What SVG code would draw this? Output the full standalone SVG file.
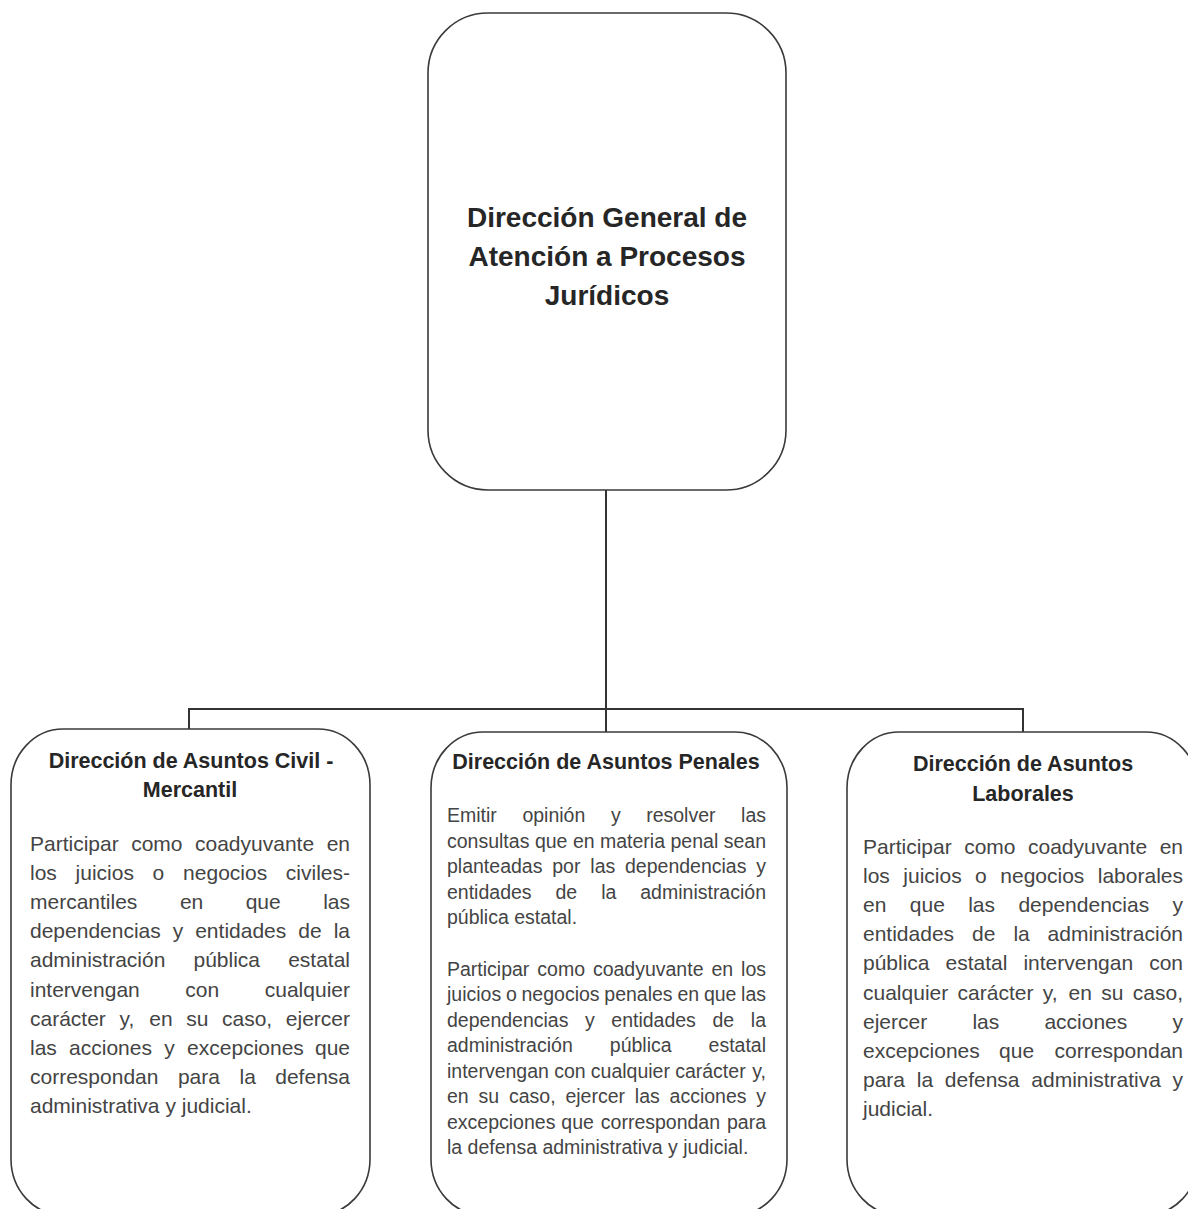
<svg xmlns="http://www.w3.org/2000/svg" width="1188" height="1209" viewBox="0 0 1188 1209">
<style>
.bg{fill:#fff}
.box{fill:#fff;stroke:#3a3a3a;stroke-width:1.6}
.conn{fill:none;stroke:#333;stroke-width:2}
.t{font-family:"Liberation Sans",Arial,sans-serif;font-weight:bold;fill:#262626;text-anchor:middle}
.top{font-size:28px}
.h{font-size:21.5px}
.p{font-family:"Liberation Sans",Arial,sans-serif;font-size:21px;fill:#444}
.pm{font-size:19.5px}
.e{text-anchor:end}
</style>
<rect class="bg" x="0" y="0" width="1188" height="1209"/>
<g id="connectors">
<path class="conn" d="M606 490 V710"/>
<path class="conn" d="M189 729 V709 H1023 V732"/>
<path class="conn" d="M606 709 V732"/>
</g>
<g id="node-general">
<rect class="box" x="428" y="13" width="358" height="477" rx="60" ry="60"/>
<text class="t top" x="607" y="227">Dirección General de</text>
<text class="t top" x="607" y="266">Atención a Procesos</text>
<text class="t top" x="607" y="305">Jurídicos</text>
</g>
<g id="node-civil">
<rect class="box" x="11" y="729" width="359" height="486" rx="52" ry="56"/>
<text class="t h" x="191" y="768">Dirección de Asuntos Civil -</text>
<text class="t h" x="190" y="797">Mercantil</text>
<text class="p" y="851"><tspan x="30">Participar</tspan><tspan x="131.2">como</tspan><tspan x="195">coadyuvante</tspan><tspan x="350" class="e">en</tspan></text>
<text class="p" y="880.1"><tspan x="30">los</tspan><tspan x="75.6">juicios</tspan><tspan x="152.6">o</tspan><tspan x="183.1">negocios</tspan><tspan x="350" class="e">civiles-</tspan></text>
<text class="p" y="909.2"><tspan x="30">mercantiles</tspan><tspan x="179.9">en</tspan><tspan x="245.7">que</tspan><tspan x="350" class="e">las</tspan></text>
<text class="p" y="938.3"><tspan x="30">dependencias</tspan><tspan x="172.7">y</tspan><tspan x="195.2">entidades</tspan><tspan x="298.3">de</tspan><tspan x="350" class="e">la</tspan></text>
<text class="p" y="967.4"><tspan x="30">administración</tspan><tspan x="193.5">pública</tspan><tspan x="350" class="e">estatal</tspan></text>
<text class="p" y="996.6"><tspan x="30">intervengan</tspan><tspan x="185.3">con</tspan><tspan x="350" class="e">cualquier</tspan></text>
<text class="p" y="1025.7"><tspan x="30">carácter</tspan><tspan x="119.5">y,</tspan><tspan x="149.3">en</tspan><tspan x="186.3">su</tspan><tspan x="222">caso,</tspan><tspan x="350" class="e">ejercer</tspan></text>
<text class="p" y="1054.8"><tspan x="30">las</tspan><tspan x="69.1">acciones</tspan><tspan x="164.3">y</tspan><tspan x="187.1">excepciones</tspan><tspan x="350" class="e">que</tspan></text>
<text class="p" y="1083.9"><tspan x="30">correspondan</tspan><tspan x="177.9">para</tspan><tspan x="239.5">la</tspan><tspan x="350" class="e">defensa</tspan></text>
<text class="p" x="30" y="1113">administrativa y judicial.</text>
</g>
<g id="node-penales">
<rect class="box" x="431" y="732" width="356" height="483" rx="52" ry="56"/>
<text class="t h" x="606" y="769">Dirección de Asuntos Penales</text>
<text class="p pm" y="822"><tspan x="447">Emitir</tspan><tspan x="522.4">opinión</tspan><tspan x="610.9">y</tspan><tspan x="646.2">resolver</tspan><tspan x="766" class="e">las</tspan></text>
<text class="p pm" y="847.5"><tspan x="447">consultas</tspan><tspan x="534.9">que</tspan><tspan x="572.9">en</tspan><tspan x="600">materia</tspan><tspan x="670.5">penal</tspan><tspan x="766" class="e">sean</tspan></text>
<text class="p pm" y="873"><tspan x="447">planteadas</tspan><tspan x="552.2">por</tspan><tspan x="590.3">las</tspan><tspan x="625">dependencias</tspan><tspan x="766" class="e">y</tspan></text>
<text class="p pm" y="898.5"><tspan x="447">entidades</tspan><tspan x="555.5">de</tspan><tspan x="601.2">la</tspan><tspan x="766" class="e">administración</tspan></text>
<text class="p pm" x="447" y="924">pública estatal.</text>
<text class="p pm" y="975.5"><tspan x="447">Participar</tspan><tspan x="537.3">como</tspan><tspan x="592.9">coadyuvante</tspan><tspan x="711.5">en</tspan><tspan x="766" class="e">los</tspan></text>
<text class="p pm" y="1001"><tspan x="447">juicios</tspan><tspan x="506">o</tspan><tspan x="521.5">negocios</tspan><tspan x="604.3">penales</tspan><tspan x="677.4">en</tspan><tspan x="703.9">que</tspan><tspan x="766" class="e">las</tspan></text>
<text class="p pm" y="1026.5"><tspan x="447">dependencias</tspan><tspan x="585">y</tspan><tspan x="611.3">entidades</tspan><tspan x="712.5">de</tspan><tspan x="766" class="e">la</tspan></text>
<text class="p pm" y="1052"><tspan x="447">administración</tspan><tspan x="609.8">pública</tspan><tspan x="766" class="e">estatal</tspan></text>
<text class="p pm" y="1077.5"><tspan x="447">intervengan</tspan><tspan x="554.2">con</tspan><tspan x="590.8">cualquier</tspan><tspan x="675.2">carácter</tspan><tspan x="766" class="e">y,</tspan></text>
<text class="p pm" y="1103"><tspan x="447">en</tspan><tspan x="478.5">su</tspan><tspan x="509">caso,</tspan><tspan x="565.4">ejercer</tspan><tspan x="634.8">las</tspan><tspan x="669.6">acciones</tspan><tspan x="766" class="e">y</tspan></text>
<text class="p pm" y="1128.5"><tspan x="447">excepciones</tspan><tspan x="561.3">que</tspan><tspan x="600.8">correspondan</tspan><tspan x="766" class="e">para</tspan></text>
<text class="p pm" x="447" y="1154">la defensa administrativa y judicial.</text>
</g>
<g id="node-laborales">
<rect class="box" x="847" y="732" width="351" height="483" rx="52" ry="56"/>
<text class="t h" x="1023" y="771">Dirección de Asuntos</text>
<text class="t h" x="1023" y="801">Laborales</text>
<text class="p" y="854"><tspan x="863">Participar</tspan><tspan x="964.2">como</tspan><tspan x="1028">coadyuvante</tspan><tspan x="1183" class="e">en</tspan></text>
<text class="p" y="883.1"><tspan x="863">los</tspan><tspan x="903.3">juicios</tspan><tspan x="975.1">o</tspan><tspan x="1000.3">negocios</tspan><tspan x="1183" class="e">laborales</tspan></text>
<text class="p" y="912.2"><tspan x="863">en</tspan><tspan x="909.8">que</tspan><tspan x="968.2">las</tspan><tspan x="1018.4">dependencias</tspan><tspan x="1183" class="e">y</tspan></text>
<text class="p" y="941.3"><tspan x="863">entidades</tspan><tspan x="972">de</tspan><tspan x="1013.4">la</tspan><tspan x="1183" class="e">administración</tspan></text>
<text class="p" y="970.4"><tspan x="863">pública</tspan><tspan x="945.5">estatal</tspan><tspan x="1023.4">intervengan</tspan><tspan x="1183" class="e">con</tspan></text>
<text class="p" y="999.5"><tspan x="863">cualquier</tspan><tspan x="957.6">carácter</tspan><tspan x="1042.8">y,</tspan><tspan x="1068.5">en</tspan><tspan x="1101.3">su</tspan><tspan x="1183" class="e">caso,</tspan></text>
<text class="p" y="1028.6"><tspan x="863">ejercer</tspan><tspan x="972.4">las</tspan><tspan x="1044.4">acciones</tspan><tspan x="1183" class="e">y</tspan></text>
<text class="p" y="1057.7"><tspan x="863">excepciones</tspan><tspan x="999.1">que</tspan><tspan x="1183" class="e">correspondan</tspan></text>
<text class="p" y="1086.8"><tspan x="863">para</tspan><tspan x="916.8">la</tspan><tspan x="944.8">defensa</tspan><tspan x="1031.3">administrativa</tspan><tspan x="1183" class="e">y</tspan></text>
<text class="p" x="863" y="1116">judicial.</text>
</g>
</svg>
